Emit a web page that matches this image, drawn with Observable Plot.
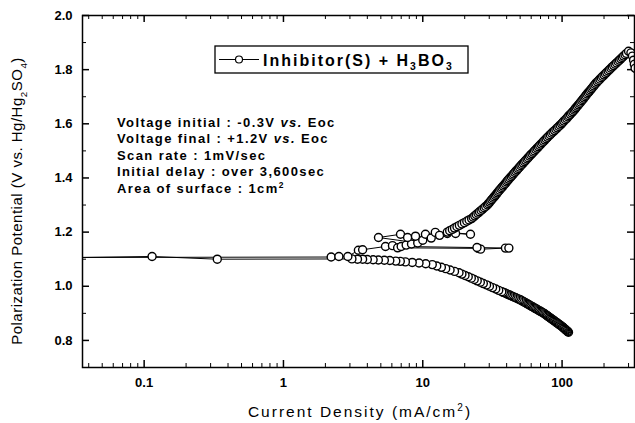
<!DOCTYPE html>
<html>
<head>
<meta charset="utf-8">
<script src="https://cdn.jsdelivr.net/npm/d3@7"></script>
<script src="https://cdn.jsdelivr.net/npm/@observablehq/plot@0.6"></script>
<style>
  html, body { margin: 0; padding: 0; background: #fff; }
  svg { display: block; }
</style>
</head>
<body>
<div id="chart"></div>
<script>
// ---------- data ----------
// Cathodic branch (scan starts at -0.3 V vs Eoc, current decreasing toward Ecorr)
const cathodicPotential = [
  0.8300,0.8325,0.8350,0.8375,0.8400,0.8425,0.8450,0.8475,0.8500,0.8525,0.8550,0.8575,0.8600,0.8625,0.8650,0.8675,0.8700,0.8725,0.8750,0.8775,
  0.8800,0.8825,0.8850,0.8875,0.8900,0.8925,0.8950,0.8975,0.9000,0.9025,0.9050,0.9075,0.9100,0.9125,0.9150,0.9175,0.9200,0.9225,0.9250,0.9275,
  0.9300,0.9325,0.9350,0.9375,0.9400,0.9425,0.9450,0.9475,0.9500,0.9525,0.9550,0.9575,0.9600,0.9625,0.9650,0.9675,0.9700,0.9725,0.9750,0.9775,
  0.9800,0.985,0.990,0.995,1.000,1.005,1.010,1.015,1.020,1.025,1.030,1.035,1.040,1.045,1.050,1.055,1.060,1.065,1.070,1.075,1.080,1.083,1.086,1.088,1.090,1.092,
  1.093,1.095,1.096,1.097,1.098,1.099,1.100,1.100,1.101,1.100,1.110,1.104];
const cathodicCurrent = [
  111.2,109.8,108.5,107.1,105.8,104.5,103.2,102.0,100.7,99.2,97.7,96.2,94.7,93.3,91.9,90.5,89.1,87.8,86.4,85.1,
  83.8,82.5,81.3,80.0,78.8,77.6,76.4,75.3,74.1,72.7,71.3,69.9,68.5,67.2,65.9,64.6,63.4,62.2,61.0,59.8,
  58.6,57.5,56.4,55.3,54.2,53.2,52.1,51.1,50.1,48.9,47.6,46.4,45.3,44.1,43.0,42.0,40.9,39.9,38.9,37.9,
  36.9,35.1,33.4,31.7,30.1,28.7,27.2,25.9,24.6,23.4,22.3,21.2,20.1,19.1,18.2,16.9,15.7,14.6,13.6,12.6,11.7,10.5,9.4,8.4,7.5,6.9,
  6.4,5.8,5.3,4.8,4.4,4.0,3.7,3.4,3.1,0.335,0.114,0.015];

// Anodic branch (noisy region near Eoc, then the rising branch up to the end of scan)
const anodicPotential = [
  1.106,1.108,1.110,1.110,1.133,1.135,1.147,1.150,1.142,1.140,1.137,1.141,1.141,1.143,1.147,1.152,1.156,1.160,1.180,1.192,1.180,1.185,1.170,1.192,1.178,1.199,1.188,1.195,1.195,1.192,
  1.200,1.205,1.210,1.215,1.220,1.225,1.230,1.235,1.240,1.245,1.250,1.255,1.260,1.265,1.270,1.275,1.280,1.285,1.290,1.295,
  1.300,1.305,1.310,1.315,1.320,1.325,1.330,1.335,1.340,1.345,1.350,1.355,1.360,1.365,1.370,1.375,1.380,1.385,1.390,1.395,
  1.400,1.405,1.410,1.415,1.420,1.425,1.430,1.435,1.440,1.445,1.450,1.455,1.460,1.465,1.470,1.475,1.480,1.485,1.490,1.495,
  1.500,1.505,1.510,1.515,1.520,1.525,1.530,1.535,1.540,1.545,1.550,1.555,1.560,1.565,1.570,1.575,1.580,1.585,1.590,1.595,
  1.600,1.605,1.610,1.615,1.620,1.625,1.630,1.635,1.640,1.645,1.650,1.655,1.660,1.665,1.670,1.675,1.680,1.685,1.690,1.695,
  1.700,1.705,1.710,1.715,1.720,1.725,1.730,1.735,1.740,1.745,1.750,1.755,1.760,1.765,1.770,1.775,1.780,1.785,1.790,1.795,
  1.800,1.805,1.810,1.815,1.820,1.825,1.830,1.835,1.840,1.845,1.850,1.855,1.860,
  1.868,1.862,1.850,1.835,1.820,1.805];
const anodicCurrent = [
  0.015,2.2,2.5,2.9,3.45,3.7,5.4,6.06,6.6,25,26,39.2,41.5,24.5,7.0,7.6,8.3,9.2,4.81,6.92,7.78,8.87,10.0,10.45,11.5,12.3,13.2,15.0,17.2,22.0,
  15.0,15.6,16.3,16.9,17.6,18.3,19.1,19.9,20.7,21.5,22.4,23.0,23.6,24.2,24.9,25.5,26.2,26.9,27.6,28.3,
  29.1,29.6,30.2,30.7,31.3,31.9,32.5,33.1,33.7,34.3,34.9,35.6,36.3,37.0,37.7,38.4,39.2,39.9,40.6,41.4,
  42.2,43.1,44.0,44.8,45.7,46.6,47.6,48.5,49.5,50.5,51.5,52.6,53.7,54.8,56.0,57.1,58.3,59.5,60.8,62.1,
  63.4,64.8,66.2,67.6,69.0,70.5,72.1,73.6,75.2,76.8,78.5,80.3,82.2,84.1,86.1,88.2,90.3,92.4,94.6,96.8,
  99.1,101,103,105.5,108,110,112,114.5,117,119.5,122,124,126,128.5,131,133.5,136,138.5,141,143.5,
  146,148.5,151,154,157,160,163,166,169,172,175,179,183,187,191,195.5,200,204.5,209,214,
  219,224,229,234.5,240,246,252,258,264,270,276,283,290,
  300,312,320,326,330,334];

// Axis ticks
const xMajorTicks = [0.1, 1, 10, 100];
const xMinorTicks = [0.04,0.05,0.06,0.07,0.08,0.09,0.2,0.3,0.4,0.5,0.6,0.7,0.8,0.9,2,3,4,5,6,7,8,9,20,30,40,50,60,70,80,90,200,300];
const yMajorTicks = [0.8, 1.0, 1.2, 1.4, 1.6, 1.8, 2.0];
const yMinorTicks = [0.7, 0.9, 1.1, 1.3, 1.5, 1.7, 1.9];
const xDomain = [0.0361, 331];
const yDomain = [0.7, 2.0];

// Texts
const legendLabel = "Inhibitor(S) + H_3BO_3";
const noteLines = [
  "Voltage initial : -0.3V *vs.* Eoc",
  "Voltage final : +1.2V *vs.* Eoc",
  "Scan rate : 1mV/sec",
  "Initial delay : over 3,600sec",
  "Area of surface : 1cm^2"
];
const xTitle = "Current Density (mA/cm^2)";
const yTitle = "Polarization Potential (V vs. Hg/Hg_2SO_4)";

// ---------- layout ----------
const W = 635, H = 423;
const M = {top: 15, right: 1, bottom: 56, left: 82};
const innerW = W - M.left - M.right;
const innerH = H - M.top - M.bottom;
const majorLen = 7, minorLen = 4;

const scan = [
  ...cathodicCurrent.map((c, i) => ({current: c, potential: cathodicPotential[i]})),
  ...anodicCurrent.map((c, i) => ({current: c, potential: anodicPotential[i]}))
];

const plot = Plot.plot({
  width: W, height: H,
  marginTop: M.top, marginRight: M.right, marginBottom: M.bottom, marginLeft: M.left,
  style: {fontFamily: "'Liberation Sans', Arial, Helvetica, sans-serif", fontSize: "13px", fontWeight: "bold", color: "black", background: "white", overflow: "visible"},
  x: {type: "log", domain: xDomain},
  y: {domain: yDomain},
  marks: [
    // inward ticks on all four sides
    Plot.tickX(xMinorTicks, {insetTop: innerH - minorLen, stroke: "black", strokeWidth: 1}),
    Plot.tickX(xMajorTicks, {insetTop: innerH - majorLen, stroke: "black", strokeWidth: 1.5}),
    Plot.tickX(xMinorTicks, {insetBottom: innerH - minorLen, stroke: "black", strokeWidth: 1}),
    Plot.tickX(xMajorTicks, {insetBottom: innerH - majorLen, stroke: "black", strokeWidth: 1.5}),
    Plot.tickY(yMinorTicks, {insetRight: innerW - minorLen, stroke: "black", strokeWidth: 1}),
    Plot.tickY(yMajorTicks, {insetRight: innerW - majorLen, stroke: "black", strokeWidth: 1.5}),
    Plot.tickY(yMinorTicks, {insetLeft: innerW - minorLen, stroke: "black", strokeWidth: 1}),
    Plot.tickY(yMajorTicks, {insetLeft: innerW - majorLen, stroke: "black", strokeWidth: 1.5}),
    // data
    Plot.line(scan, {x: "current", y: "potential", stroke: "black", strokeWidth: 1, clip: true}),
    Plot.dot(scan, {x: "current", y: "potential", r: 4, fill: "white", stroke: "black", strokeWidth: 1.4, clip: true}),
    Plot.frame({stroke: "black", strokeWidth: 1.5}),
    // tick labels
    Plot.axisX(xMajorTicks, {tickSize: 0, tickPadding: 10, tickFormat: d => String(d), label: null}),
    Plot.axisY(yMajorTicks, {tickSize: 0, tickPadding: 10, tickFormat: d3.format(".1f"), label: null})
  ]
});

document.getElementById("chart").appendChild(plot);

// ---------- rich text (subscripts, superscripts, italics) ----------
const svg = d3.select(plot);
function richText(sel, str, size) {
  const parts = str.split(/(\*[^*]+\*|\^\d|_\d)/).filter(s => s.length);
  let shift = 0;
  for (const p of parts) {
    if (p.startsWith("*")) {
      sel.append("tspan").attr("font-style", "italic").attr("dy", shift).text(p.slice(1, -1));
      shift = 0;
    } else if (p.startsWith("^")) {
      sel.append("tspan").attr("dy", -size * 0.38).attr("font-size", size * 0.65).text(p.slice(1));
      shift = size * 0.38;
    } else if (p.startsWith("_")) {
      sel.append("tspan").attr("dy", size * 0.3).attr("font-size", size * 0.65).text(p.slice(1));
      shift = -size * 0.3;
    } else {
      sel.append("tspan").attr("dy", shift).text(p);
      shift = 0;
    }
  }
}

// annotation block
const notes = svg.append("g")
  .attr("text-anchor", "start")
  .attr("font-size", 13).attr("font-weight", "bold").attr("letter-spacing", 1.4).attr("fill", "black");
noteLines.forEach((line, i) => {
  const t = notes.append("text").attr("x", 117).attr("y", 126.5 + i * 16.5);
  richText(t, line, 13);
});

// legend box
const lg = svg.append("g").attr("text-anchor", "start");
lg.append("rect").attr("x", 215).attr("y", 46).attr("width", 253).attr("height", 27)
  .attr("fill", "white").attr("stroke", "black").attr("stroke-width", 1.3);
lg.append("line").attr("x1", 219).attr("x2", 259).attr("y1", 59.5).attr("y2", 59.5)
  .attr("stroke", "black").attr("stroke-width", 1.2);
lg.append("circle").attr("cx", 239).attr("cy", 59.5).attr("r", 3.5)
  .attr("fill", "white").attr("stroke", "black").attr("stroke-width", 1.2);
const lt = lg.append("text").attr("x", 263).attr("y", 65.5)
  .attr("font-size", 16).attr("font-weight", "bold").attr("letter-spacing", 2);
richText(lt, legendLabel, 16);

// axis titles
const xt = svg.append("text").attr("x", M.left + innerW / 2 + 2).attr("y", 417)
  .attr("text-anchor", "middle").attr("font-size", 15.5).attr("font-weight", "normal").attr("letter-spacing", 2);
richText(xt, xTitle, 15.5);

const yt = svg.append("text").attr("transform", "translate(22,201) rotate(-90)")
  .attr("text-anchor", "middle").attr("font-size", 15).attr("font-weight", "normal").attr("letter-spacing", 0.5);
richText(yt, yTitle, 15);
</script>
</body>
</html>
